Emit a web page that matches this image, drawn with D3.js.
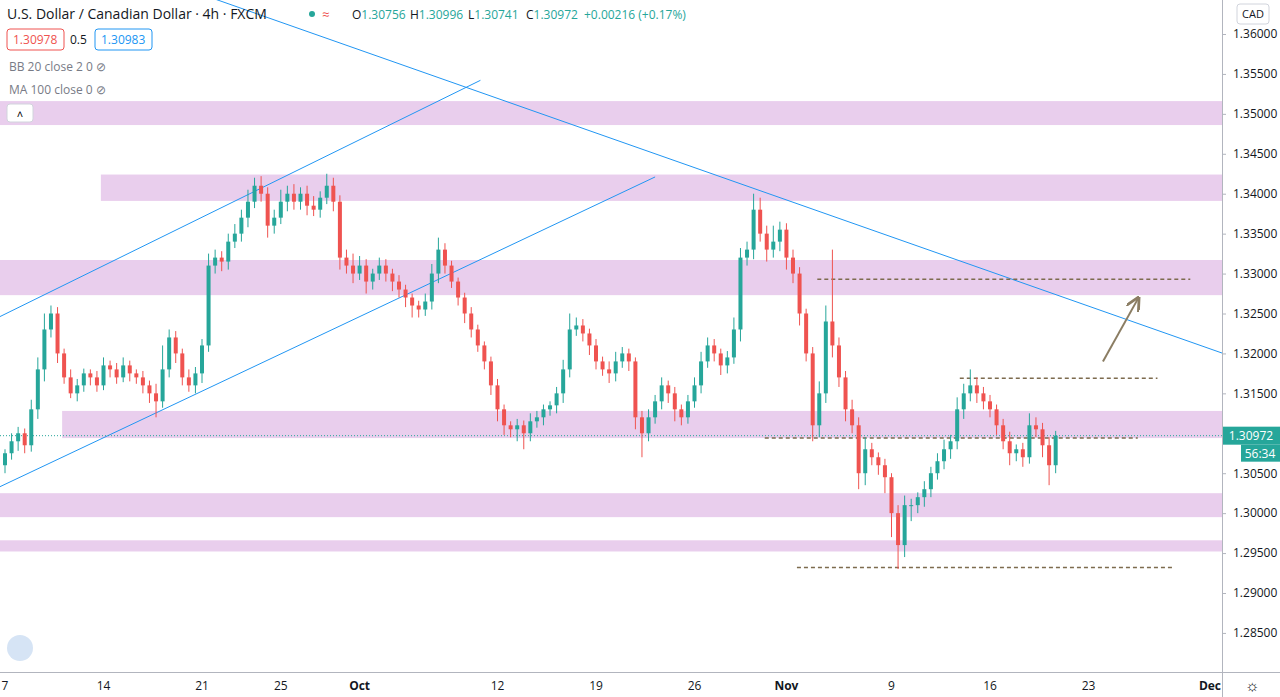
<!DOCTYPE html>
<html><head><meta charset="utf-8">
<script src="https://cdn.jsdelivr.net/npm/d3@7"></script>
<style>body{margin:0;background:#fff;font-family:"Open Sans",Roboto,sans-serif}</style>
</head><body><svg id="c" width="1280" height="697"></svg>
<script>
// closes in 1e-4 above 1.0 (8h-ish bars, Sep 7 .. Nov 20)
const closes = [
3075,3090,3100,3085,3130,3180,3230,3250,3200,3170,3150,3160,3175,3170,3160,
3185,3180,3170,3185,3175,3170,3160,3150,3140,3180,3220,3200,3170,3160,3175,
3210,3310,3320,3315,3340,3350,3370,3390,3410,3400,3360,3370,3390,3400,3390,
3400,3385,3380,3395,3410,3390,3320,3310,3300,3310,3290,3300,3310,3300,3290,
3280,3270,3260,3255,3265,3300,3330,3310,3290,3270,3250,3230,3210,3190,3160,
3130,3110,3105,3110,3100,3115,3120,3130,3135,3150,3180,3230,3235,3225,3210,
3190,3180,3175,3190,3200,3190,3120,3100,3120,3140,3160,3150,3130,3120,3140,
3160,3190,3210,3200,3185,3195,3230,3320,3330,3380,3350,3330,3340,3355,3320,
3300,3250,3200,3110,3150,3240,3210,3170,3130,3110,3050,3080,3070,3060,3045,
3000,2960,3010,3010,3020,3030,3050,3065,3080,3090,3130,3150,3160,3150,3140,
3130,3110,3090,3075,3080,3070,3110,3105,3085,3060,3097];
const wickUp = [
5,10,8,6,12,15,20,10,8,6,10,8,6,5,8,
10,6,8,10,6,5,8,6,12,30,10,8,6,10,8,
8,15,10,8,10,12,10,15,10,12,8,10,15,10,12,
8,10,12,8,15,10,8,10,15,12,8,6,10,8,6,
8,6,5,6,10,12,15,8,6,5,6,8,6,5,6,
8,6,5,8,6,10,8,6,5,8,12,20,10,8,6,
8,6,10,12,8,6,5,8,10,8,10,6,8,6,8,
10,12,10,8,6,8,15,12,10,20,15,10,20,10,8,
10,8,6,8,15,20,90,10,8,12,10,15,8,6,8,
5,10,12,8,6,10,8,10,12,8,15,12,20,10,8,
8,6,8,12,6,8,15,10,8,10,6];
const wickDn = [
10,8,12,10,8,12,15,10,12,8,6,10,8,10,8,
6,10,8,6,10,8,10,12,20,8,10,12,10,8,10,
12,8,10,12,10,8,10,12,8,10,15,10,8,12,10,
10,12,8,10,8,12,15,10,12,8,15,10,8,10,12,
10,12,15,10,8,10,12,10,8,10,12,10,8,10,12,
15,12,10,15,20,10,8,10,8,10,12,10,8,10,12,
10,8,12,10,8,12,15,30,10,8,10,12,15,10,8,
8,10,8,10,12,10,8,15,10,12,10,15,10,12,15,
12,15,10,20,15,12,15,12,15,10,20,15,10,12,20,
30,30,15,20,10,12,10,8,10,12,10,12,10,12,10,
10,12,10,15,10,12,8,10,15,25,10];
const openFirst = 3060;
const tickLabels = [["7",0],["14",15],["21",30],["25",42],["Oct",54],["12",75],["19",90],["26",105],["Nov",119],["9",135],["16",150],["23",165],["Dec",183.5]];
const priceTicks = [1.285,1.29,1.295,1.30,1.305,1.315,1.32,1.325,1.33,1.335,1.34,1.345,1.35,1.355,1.36];
// zones: [fromBar, top price, bottom price]
const zones = [[-1,1.3516,1.3486],[14.6,1.3424,1.3391],[-1,1.3317,1.3273],[8.7,1.3128,1.3094],[-1,1.3025,1.2995],[-1,1.2966,1.2952]];
// trend lines: [bar, price, bar, price]
const trendLines = [[-0.8,1.3246,72.4,1.3542],[-0.8,1.3033,99,1.3421],[26.7,1.3659,185.5,1.3200]];
// dashed levels: [fromBar, toBar, price]
const levels = [[123.7,180.5,1.3293],[145.4,175.5,1.3169],[115.7,172.5,1.3094],[120.6,177.8,1.2932]];
const arrow = [167.2,1.3190,172.5,1.3268];

const svg = d3.select("#c");
const x = d3.scaleLinear().domain([0,150]).range([5,990]);
const y = d3.scaleLinear().domain([1.29,1.36]).range([593,34]);
const W = 1222, H = 672;
const P = v => 1 + v/10000;

const bars = closes.map((c,i)=>{
  const o = i===0 ? openFirst : closes[i-1];
  return {i, o:P(o), c:P(c), h:P(Math.max(o,c)+wickUp[i]), l:P(Math.min(o,c)-wickDn[i])};
});

const plot = svg.append("g");
plot.selectAll("rect.z").data(zones).join("rect")
  .attr("x",d=>Math.max(0,x(d[0]))).attr("width",d=>W-Math.max(0,x(d[0])))
  .attr("y",d=>y(d[1])).attr("height",d=>y(d[2])-y(d[1]))
  .attr("fill","#e1bee7").attr("opacity",0.75);

svg.append("clipPath").attr("id","cp").append("rect").attr("width",W).attr("height",H);
const lines = svg.append("g").attr("clip-path","url(#cp)");
lines.selectAll("line.t").data(trendLines).join("line")
  .attr("x1",d=>x(d[0])).attr("y1",d=>y(d[1])).attr("x2",d=>x(d[2])).attr("y2",d=>y(d[3]))
  .attr("stroke","#2196f3").attr("stroke-width",1);

const last = P(closes[closes.length-1]);
lines.append("line").attr("x1",0).attr("x2",W).attr("y1",y(last)).attr("y2",y(last))
  .attr("stroke","#26a69a").attr("stroke-dasharray","1,2");

const cg = svg.append("g");
cg.selectAll("line.w").data(bars).join("line")
  .attr("x1",d=>x(d.i)).attr("x2",d=>x(d.i)).attr("y1",d=>y(d.h)).attr("y2",d=>y(d.l))
  .attr("stroke",d=>d.c>=d.o?"#26a69a":"#ef5350");
cg.selectAll("rect.b").data(bars).join("rect")
  .attr("x",d=>x(d.i)-2).attr("width",4)
  .attr("y",d=>y(Math.max(d.o,d.c))).attr("height",d=>Math.max(1,Math.abs(y(d.o)-y(d.c))))
  .attr("fill",d=>d.c>=d.o?"#26a69a":"#ef5350");

lines.selectAll("line.lv").data(levels).join("line")
  .attr("x1",d=>x(d[0])).attr("x2",d=>x(d[1])).attr("y1",d=>y(d[2])).attr("y2",d=>y(d[2]))
  .attr("stroke","#7d6b4e").attr("stroke-width",1.5).attr("stroke-dasharray","4,3");

svg.append("defs").append("marker").attr("id","ah").attr("viewBox","0 0 10 10").attr("refX",8).attr("refY",5)
  .attr("markerWidth",7).attr("markerHeight",7).attr("orient","auto")
  .append("path").attr("d","M0,0L10,5L0,10").attr("fill","none").attr("stroke","#8b7d63").attr("stroke-width",2);
svg.append("line").attr("x1",x(arrow[0])).attr("y1",y(arrow[1])).attr("x2",x(arrow[2])).attr("y2",y(arrow[3]))
  .attr("stroke","#8b7d63").attr("stroke-width",2).attr("marker-end","url(#ah)");

// axes
svg.append("line").attr("x1",W+0.5).attr("x2",W+0.5).attr("y1",0).attr("y2",697).attr("stroke","#b2b5be");
svg.append("line").attr("x1",0).attr("x2",1280).attr("y1",H+0.5).attr("y2",H+0.5).attr("stroke","#b2b5be");
const ya = svg.append("g").attr("transform",`translate(${W},0)`)
  .call(d3.axisRight(y).tickValues(priceTicks).tickFormat(d3.format(".5f")).tickSize(4));
ya.select(".domain").remove();
ya.selectAll("text").attr("font-size",12).attr("fill","#131722").attr("font-family","Open Sans, sans-serif").attr("dx",4);
ya.selectAll("line").attr("stroke","#b2b5be");
svg.append("g").selectAll("text").data(tickLabels).join("text")
  .attr("x",d=>x(d[1])).attr("y",690).attr("text-anchor","middle").attr("font-size",12)
  .attr("fill","#131722").attr("font-weight",d=>isNaN(+d[0])?"bold":"normal").text(d=>d[0]);

// price label
const ly = y(last);
svg.append("rect").attr("x",W+1).attr("y",ly-9).attr("width",57).attr("height",18).attr("fill","#26a69a");
svg.append("text").attr("x",W+29).attr("y",ly+4).attr("text-anchor","middle").attr("font-size",12).attr("fill","#fff").text("1.30972");
svg.append("rect").attr("x",W+19).attr("y",ly+9).attr("width",39).attr("height",17).attr("fill","#26a69a");
svg.append("text").attr("x",W+38).attr("y",ly+22).attr("text-anchor","middle").attr("font-size",12).attr("fill","#fff").text("56:34");
svg.append("rect").attr("x",1237).attr("y",4).attr("width",32).attr("height",20).attr("rx",3).attr("fill","#fff").attr("stroke","#d1d4dc");
svg.append("text").attr("x",1253).attr("y",18).attr("text-anchor","middle").attr("font-size",11).attr("fill","#131722").text("CAD");
svg.append("text").attr("x",1252).attr("y",691).attr("text-anchor","middle").attr("font-size",16).attr("fill","#131722").text("☼");

// header
const hd = svg.append("g").attr("font-size",13).attr("fill","#131722");
hd.append("text").attr("x",7).attr("y",19).attr("font-size",14).text("U.S. Dollar / Canadian Dollar · 4h · FXCM");
hd.append("circle").attr("cx",312).attr("cy",14).attr("r",3).attr("fill","#26a69a");
hd.append("text").attr("x",322).attr("y",19).attr("fill","#ef5350").text("≈");
const ohlc = [["O","1.30756"],["H","1.30996"],["L","1.30741"],["C","1.30972"]];
let hx = 352;
ohlc.forEach(d=>{const t=hd.append("text").attr("x",hx).attr("y",19).attr("font-size",12);
  t.append("tspan").text(d[0]); t.append("tspan").attr("fill","#26a69a").text(d[1]); hx+=58;});
hd.append("text").attr("x",hx).attr("y",19).attr("font-size",12).attr("fill","#26a69a").text("+0.00216 (+0.17%)");
svg.append("rect").attr("x",7).attr("y",29).attr("width",57).attr("height",21).attr("rx",3).attr("fill","#fff").attr("stroke","#ef5350");
svg.append("text").attr("x",13).attr("y",44).attr("font-size",12).attr("fill","#ef5350").text("1.30978");
svg.append("text").attr("x",70).attr("y",44).attr("font-size",12).attr("fill","#131722").text("0.5");
svg.append("rect").attr("x",95).attr("y",29).attr("width",57).attr("height",21).attr("rx",3).attr("fill","#fff").attr("stroke","#2196f3");
svg.append("text").attr("x",101).attr("y",44).attr("font-size",12).attr("fill","#2196f3").text("1.30983");
svg.append("text").attr("x",9).attr("y",71).attr("font-size",12).attr("fill","#787b86").text("BB 20 close 2 0  ⊘");
svg.append("text").attr("x",9).attr("y",94).attr("font-size",12).attr("fill","#787b86").text("MA 100 close 0  ⊘");
svg.append("rect").attr("x",7).attr("y",104).attr("width",26).attr("height",18).attr("rx",3).attr("fill","#fff").attr("stroke","#d1d4dc");
svg.append("text").attr("x",20).attr("y",118).attr("text-anchor","middle").attr("font-size",11).text("˄");
svg.append("circle").attr("cx",20).attr("cy",648).attr("r",13).attr("fill","#d6e4f5");
</script></body></html>
